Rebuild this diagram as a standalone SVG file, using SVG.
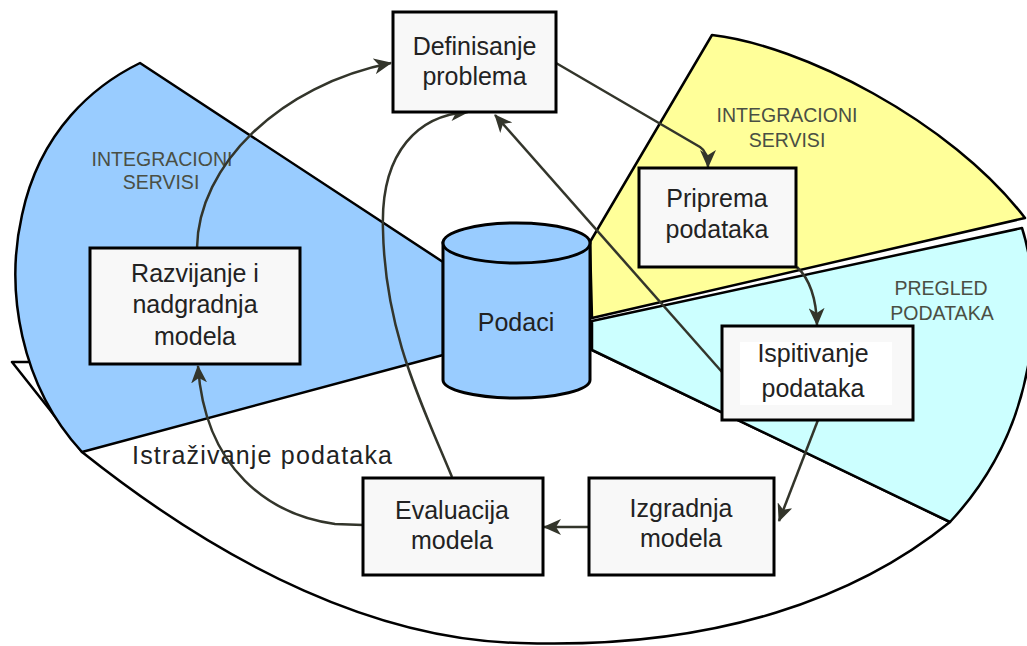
<svg xmlns="http://www.w3.org/2000/svg" width="1027" height="646" viewBox="0 0 1027 646">
  <defs>
    <style>
      .sector { stroke: #000; stroke-width: 2.5; stroke-linejoin: round; }
      .box rect.frame { fill: #f8f8f8; stroke: #000; stroke-width: 3; }
      .box text { font-family: "Liberation Sans", Arial, sans-serif; font-size: 25px; fill: #222; text-anchor: middle; }
      .zone { font-family: "Liberation Sans", Arial, sans-serif; font-size: 19.5px; fill: #4a4f44; text-anchor: middle; }
      .flow { fill: none; stroke: #33352b; stroke-width: 2.5; marker-end: url(#arrow); }
    </style>
    <marker id="arrow" viewBox="0 0 18 16" refX="17" refY="8" markerWidth="18" markerHeight="16" markerUnits="userSpaceOnUse" orient="auto">
      <path d="M0,0 L18,8 L0,16 L5,8 Z" fill="#33352b"/>
    </marker>
  </defs>

  <rect width="1027" height="646" fill="#fff"/>

  <!-- lower white sector -->
  <path id="sector-explore" class="sector" fill="#fff"
        d="M12,362 L28,362 L300,345 L445,335 L592,350 L950,522 C860,595 720,650 520,643 C380,640 230,570 82,452 L50,410 Z"/>

  <!-- blue sector (left) -->
  <path id="sector-left" class="sector" fill="#99ccff"
        d="M443,262 L140,63 C95,85 40,130 22,215 C5,290 20,385 82,452 L443,355 Z"/>

  <!-- yellow sector (top right) -->
  <path id="sector-top-right" class="sector" fill="#ffff99"
        d="M590,242 L712,35 C800,45 950,120 1025,218 L592,318 Z"/>

  <!-- cyan sector (right) -->
  <path id="sector-right" class="sector" fill="#ccffff"
        d="M592,321 L1022,228 C1042,290 1045,420 950,522 L592,350 Z"/>

  <text class="zone" x="162" y="166">INTEGRACIONI</text>
  <text class="zone" x="161" y="189">SERVISI</text>
  <text class="zone" x="787" y="122">INTEGRACIONI</text>
  <text class="zone" x="787" y="147">SERVISI</text>
  <text class="zone" x="941" y="295">PREGLED</text>
  <text class="zone" x="942" y="320">PODATAKA</text>
  <text x="132" y="464" font-family="Liberation Sans, Arial, sans-serif" font-size="25" fill="#222" textLength="260" lengthAdjust="spacing">Istraživanje podataka</text>

  <!-- data store -->
  <g id="podaci">
    <path d="M443,243 L443,380 A73.5,18 0 0 0 590,380 L590,243 Z" fill="#99ccff" stroke="#000" stroke-width="3"/>
    <ellipse cx="516.5" cy="243" rx="73.5" ry="20" fill="#99ccff" stroke="#000" stroke-width="3"/>
    <text x="516" y="331" font-family="Liberation Sans, Arial, sans-serif" font-size="25" fill="#222" text-anchor="middle">Podaci</text>
  </g>

  <!-- process flow -->
  <g id="connectors">
    <path class="flow" d="M197,248 C198,165 280,85 391,63"/>
    <path class="flow" d="M556,63 L700,147 Q708,152 708,167"/>
    <path class="flow" d="M797,267 Q816,285 817,325"/>
    <path class="flow" d="M818,420 L779,521"/>
    <path class="flow" d="M589,527 L544,527"/>
    <path class="flow" d="M363,525 L335,524 C270,515 205,470 198,366"/>
    <path class="flow" d="M452,477 C420,400 385,330 383,230 C380,150 420,115 468,112"/>
    <path class="flow" d="M722,372 L495,115"/>
  </g>

  <g id="definisanje" class="box">
    <rect class="frame" x="393" y="12" width="163" height="100"/>
    <text x="474.5" y="55">Definisanje</text>
    <text x="474.5" y="85">problema</text>
  </g>

  <g id="priprema" class="box">
    <rect class="frame" x="639" y="168" width="157" height="99"/>
    <text x="717" y="207">Priprema</text>
    <text x="717" y="238">podataka</text>
  </g>

  <g id="ispitivanje" class="box">
    <rect class="frame" x="722" y="326" width="191" height="94"/>
    <rect x="740" y="342" width="152" height="63" fill="#fff"/>
    <text x="813" y="362">Ispitivanje</text>
    <text x="813" y="397">podataka</text>
  </g>

  <g id="izgradnja" class="box">
    <rect class="frame" x="589" y="478" width="185" height="97"/>
    <text x="681" y="517">Izgradnja</text>
    <text x="681" y="547">modela</text>
  </g>

  <g id="evaluacija" class="box">
    <rect class="frame" x="363" y="478" width="180" height="97"/>
    <text x="452" y="519">Evaluacija</text>
    <text x="452" y="549">modela</text>
  </g>

  <g id="razvijanje" class="box">
    <rect class="frame" x="90" y="248" width="210" height="116"/>
    <text x="195" y="282">Razvijanje i</text>
    <text x="195" y="313">nadgradnja</text>
    <text x="195" y="345">modela</text>
  </g>
</svg>
